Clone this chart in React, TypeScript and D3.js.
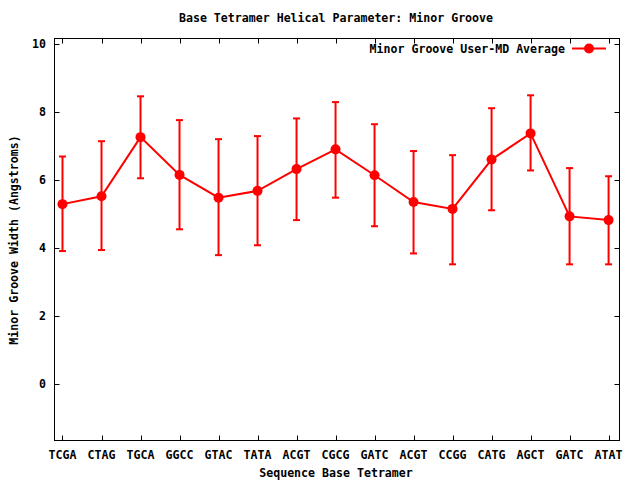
import React from "react";
import * as d3 from "d3";

const categories = ["TCGA", "CTAG", "TGCA", "GGCC", "GTAC", "TATA", "ACGT", "CGCG", "GATC", "ACGT", "CCGG", "CATG", "AGCT", "GATC", "ATAT"];
const means = [5.28, 5.51, 7.25, 6.14, 5.47, 5.67, 6.31, 6.89, 6.13, 5.34, 5.14, 6.59, 7.36, 4.92, 4.81];
const uppers = [6.68, 7.13, 8.45, 7.75, 7.19, 7.28, 7.8, 8.28, 7.63, 6.84, 6.72, 8.1, 8.48, 6.34, 6.1];
const lowers = [3.9, 3.93, 6.04, 4.54, 3.78, 4.07, 4.81, 5.47, 4.63, 3.83, 3.51, 5.1, 6.27, 3.51, 3.51];
const yTicks = [0, 2, 4, 6, 8, 10];

const FONT = "'DejaVu Sans Mono', monospace";

export default function App() {
  const W = 640, H = 480;
  const left = 54.5, right = 619.5, top = 38.5, bottom = 440.5;
  const x = d3.scaleLinear().domain([-0.205, 14.28]).range([left, right]);
  const y = d3.scaleLinear().domain([-1.67, 10.15]).range([bottom, top]);
  const line = d3.line<number>().x((_, i) => x(i)).y((d) => y(d));
  const red = "#ff0000";
  const tk = 5;
  const cap = 3.5;
  return (
    <svg width={W} height={H} style={{ position: "absolute", left: 0, top: 0, background: "#fff" }} fontFamily={FONT} fontWeight="bold" fontSize={11.6}>
      <rect x={0} y={0} width={W} height={H} fill="#fff" />
      <text x={336} y={22} textAnchor="middle">Base Tetramer Helical Parameter: Minor Groove</text>
      {/* frame */}
      <rect x={left} y={top} width={right - left} height={bottom - top} fill="none" stroke="#000" strokeWidth={1} />
      {/* y ticks */}
      {yTicks.map((t) => (
        <g key={"y" + t}>
          <line x1={left} x2={left + tk} y1={Math.round(y(t)) + 0.5} y2={Math.round(y(t)) + 0.5} stroke="#000" />
          <line x1={right} x2={right - tk} y1={Math.round(y(t)) + 0.5} y2={Math.round(y(t)) + 0.5} stroke="#000" />
          <text x={46} y={y(t) + 4} textAnchor="end">{t}</text>
        </g>
      ))}
      {/* x ticks */}
      {categories.map((c, i) => (
        <g key={"x" + i}>
          <line x1={Math.round(x(i)) + 0.5} x2={Math.round(x(i)) + 0.5} y1={bottom} y2={bottom - tk} stroke="#000" />
          <line x1={Math.round(x(i)) + 0.5} x2={Math.round(x(i)) + 0.5} y1={top} y2={top + tk} stroke="#000" />
          <text x={x(i)} y={459} textAnchor="middle">{c}</text>
        </g>
      ))}
      <text x={336} y={477} textAnchor="middle">Sequence Base Tetramer</text>
      <text transform="translate(18,240) rotate(-90)" textAnchor="middle">Minor Groove Width (Angstroms)</text>
      {/* error bars */}
      {means.map((m, i) => (
        <g key={"e" + i} stroke={red} strokeWidth={2}>
          <line x1={x(i)} x2={x(i)} y1={y(uppers[i])} y2={y(lowers[i])} />
          <line x1={x(i) - cap} x2={x(i) + cap} y1={y(uppers[i])} y2={y(uppers[i])} />
          <line x1={x(i) - cap} x2={x(i) + cap} y1={y(lowers[i])} y2={y(lowers[i])} />
        </g>
      ))}
      <path d={line(means) || ""} fill="none" stroke={red} strokeWidth={2} />
      {means.map((m, i) => (
        <circle key={"p" + i} cx={x(i)} cy={y(m)} r={5} fill={red} />
      ))}
      {/* legend */}
      <text x={565} y={53} textAnchor="end">Minor Groove User-MD Average</text>
      <line x1={572} x2={606} y1={48.5} y2={48.5} stroke={red} strokeWidth={2} />
      <circle cx={589} cy={48.5} r={5} fill={red} />
    </svg>
  );
}
